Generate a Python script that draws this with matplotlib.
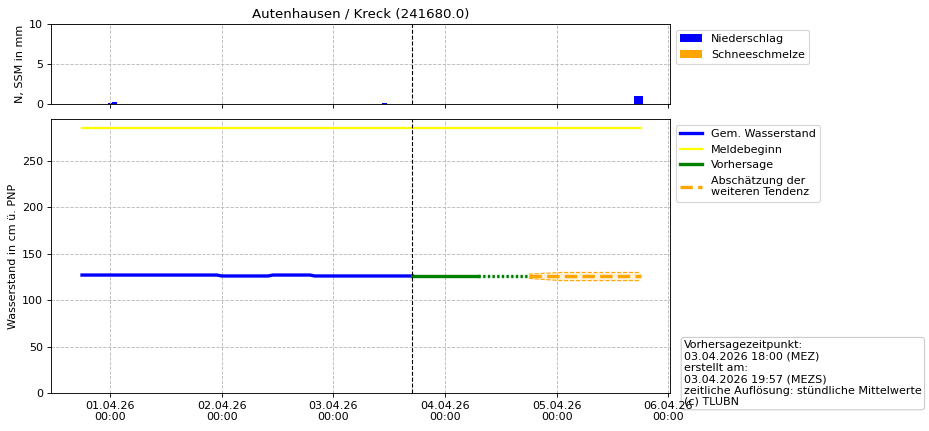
import matplotlib
matplotlib.use("Agg")
import matplotlib.pyplot as plt
import matplotlib.dates as mdates
import pandas as pd

# Niederschlag (hourly bars, mm)
rain_times = ["2026-04-01 00:00", "2026-04-01 01:00", "2026-04-03 11:00",
              "2026-04-05 17:00", "2026-04-05 18:00"]
rain_values = [0.1, 0.3, 0.1, 1.0, 1.0]

# Gemessener Wasserstand (cm), change points
obs_times = ["2026-03-31 18:00", "2026-04-01 23:00", "2026-04-02 00:00",
             "2026-04-02 10:00", "2026-04-02 11:00", "2026-04-02 19:00",
             "2026-04-02 20:00", "2026-04-03 17:00"]
obs_values = [127, 127, 126, 126, 127, 127, 126, 126]

# Meldebeginn
alert_times = ["2026-03-31 18:00", "2026-04-05 18:00"]
alert_values = [285, 285]

# Vorhersage
fc_times = ["2026-04-03 17:00", "2026-04-04 07:00"]
fc_values = [126, 126]
fc_dot_times = ["2026-04-04 07:00", "2026-04-04 18:00"]
fc_dot_values = [126, 126]
fc_band_times = ["2026-04-04 04:00", "2026-04-04 18:00"]
fc_band_low = [125.3, 125.0]
fc_band_high = [126.7, 127.0]

# Abschaetzung der weiteren Tendenz
trend_times = ["2026-04-04 18:00", "2026-04-05 18:00"]
trend_values = [125.5, 125.5]
trend_band_times = ["2026-04-04 18:00", "2026-04-04 19:00",
                    "2026-04-05 01:00", "2026-04-05 18:00"]
trend_band_low = [123.5, 123.0, 121.0, 121.0]
trend_band_high = [128.0, 128.3, 129.8, 129.8]

forecast_time = "2026-04-03 17:00"
x_start = "2026-03-31 11:20"
x_end = "2026-04-06 00:20"


def main():
    t = pd.to_datetime
    fig = plt.figure(figsize=(929 / 80, 431 / 80), dpi=80)
    ax1 = fig.add_axes([51 / 929, 1 - 104 / 431, 619 / 929, 80 / 431])
    ax2 = fig.add_axes([51 / 929, 1 - 393 / 431, 619 / 929, 274 / 431],
                       sharex=ax1)

    # top panel
    ax1.bar(t(rain_times), rain_values, width=1 / 24, color="blue",
            label="Niederschlag")
    ax1.bar(t(rain_times), [0] * len(rain_times), width=1 / 24,
            color="orange", label="Schneeschmelze")
    ax1.set_ylim(0, 10)
    ax1.set_yticks([0, 5, 10])
    ax1.set_ylabel("N, SSM in mm")
    ax1.set_title("Autenhausen / Kreck (241680.0)")
    ax1.grid(True, linestyle="--", color="#bbbbbb")
    ax1.axvline(t(forecast_time), color="black", linestyle="--", lw=1)
    ax1.tick_params(labelbottom=False)
    ax1.legend(loc="upper left", bbox_to_anchor=(1, 1))

    # bottom panel
    ax2.plot(t(obs_times), obs_values, color="blue", lw=3,
             label="Gem. Wasserstand")
    ax2.plot(t(alert_times), alert_values, color="yellow", lw=2,
             label="Meldebeginn")
    ax2.fill_between(t(fc_band_times), fc_band_low, fc_band_high,
                     color="green", alpha=0.12, lw=0)
    ax2.plot(t(fc_times), fc_values, color="green", lw=3, label="Vorhersage")
    ax2.plot(t(fc_dot_times), fc_dot_values, color="green", lw=3,
             linestyle=(0, (0.7, 0.7)))
    ax2.fill_between(t(trend_band_times), trend_band_low, trend_band_high,
                     color="orange", alpha=0.15, lw=0)
    ax2.plot(t(trend_band_times), trend_band_low, color="orange", lw=1,
             linestyle="--")
    ax2.plot(t(trend_band_times), trend_band_high, color="orange", lw=1,
             linestyle="--")
    ax2.plot(t(trend_times), trend_values, color="orange", lw=3,
             linestyle="--", label="Abschätzung der\nweiteren Tendenz")
    ax2.axvline(t(forecast_time), color="black", linestyle="--", lw=1)
    ax2.set_ylim(0, 295)
    ax2.set_ylabel("Wasserstand in cm ü. PNP")
    ax2.grid(True, linestyle="--", color="#bbbbbb")
    ax2.legend(loc="upper left", bbox_to_anchor=(1, 1))

    ax2.set_xlim(t(x_start), t(x_end))
    ax2.xaxis.set_major_locator(mdates.DayLocator())
    ax2.xaxis.set_major_formatter(mdates.DateFormatter("%d.%m.%y\n%H:%M"))
    for label in ax2.get_xticklabels():
        label.set_horizontalalignment("center")

    info = ("Vorhersagezeitpunkt:\n03.04.2026 18:00 (MEZ)\nerstellt am:\n"
            "03.04.2026 19:57 (MEZS)\n"
            "zeitliche Auflösung: stündliche Mittelwerte\n(c) TLUBN")
    fig.text(684 / 929, 1 - 407 / 431, info, fontsize=10, va="bottom",
             ha="left", linespacing=1.17, zorder=-1,
             bbox=dict(boxstyle="round,pad=0.25", fc="white", ec="#cccccc"))

    fig.savefig("out.png", dpi=80)


if __name__ == "__main__":
    main()
